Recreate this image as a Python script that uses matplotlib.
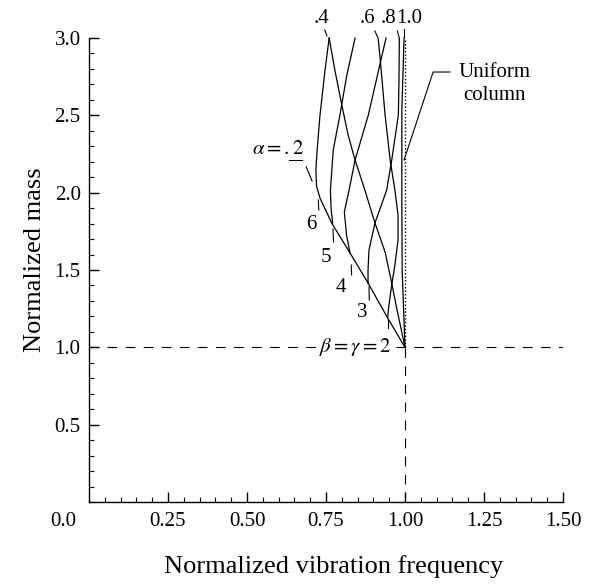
import matplotlib
matplotlib.use('Agg')
import matplotlib.pyplot as plt
from matplotlib.ticker import MultipleLocator

plt.rcParams['font.family'] = ['Liberation Serif', 'DejaVu Serif']
plt.rcParams['mathtext.fontset'] = 'stix'
plt.rcParams['lines.scale_dashes'] = False

# ---------------- data ----------------
x_ticks = [0.25, 0.50, 0.75, 1.00, 1.25, 1.50]
x_tick_labels = ['0.25', '0.50', '0.75', '1.00', '1.25', '1.50']
y_ticks = [0.5, 1.0, 1.5, 2.0, 2.5, 3.0]
y_tick_labels = ['0.5', '1.0', '1.5', '2.0', '2.5', '3.0']

reference_freq = 1.0
reference_mass = 1.0
mass_top = 3.0

# alpha = .2 curve (upper branch + lower envelope to beta=gamma=2)
c1_freq = [0.760, 0.747, 0.731, 0.722, 0.718, 0.720, 0.731, 0.768, 0.826, 0.883, 0.945, 1.000]
c1_mass = [3.000, 2.793, 2.502, 2.276, 2.147, 2.043, 1.965, 1.804, 1.610, 1.416, 1.190, 1.000]

c2_freq = [0.760, 0.778, 0.800, 0.820, 0.842, 0.873, 0.905, 0.937, 0.956, 0.975, 1.000]
c2_mass = [3.000, 2.793, 2.567, 2.373, 2.211, 2.017, 1.804, 1.616, 1.435, 1.241, 1.000]

c3_freq = [0.842, 0.816, 0.794, 0.773, 0.764, 0.766, 0.771]
c3_mass = [3.000, 2.761, 2.502, 2.276, 2.017, 1.901, 1.804]

c4_freq = [0.915, 0.924, 0.937, 0.953, 0.968, 0.978, 0.978, 0.968, 0.958, 0.948, 0.945]
c4_mass = [3.000, 2.806, 2.502, 2.211, 2.017, 1.856, 1.694, 1.532, 1.403, 1.254, 1.190]

c5_freq = [0.940, 0.918, 0.884, 0.842, 0.823, 0.808, 0.815, 0.826]
c5_mass = [3.000, 2.806, 2.502, 2.211, 2.017, 1.875, 1.726, 1.610]

c6_freq = [0.982, 0.981, 0.979, 0.958, 0.942, 0.905, 0.886, 0.883, 0.883]
c6_mass = [3.000, 2.728, 2.502, 2.211, 2.017, 1.804, 1.629, 1.500, 1.416]

c7_freq = [0.997, 0.990, 0.990, 0.991, 1.000]
c7_mass = [3.000, 2.534, 1.950, 1.500, 1.000]

curves = [(c1_freq, c1_mass), (c2_freq, c2_mass), (c3_freq, c3_mass),
          (c4_freq, c4_mass), (c5_freq, c5_mass), (c6_freq, c6_mass),
          (c7_freq, c7_mass)]

# ---------------- figure ----------------
fig = plt.figure(figsize=(5.94, 5.84), dpi=100)
ax = fig.add_axes([89/594, 82/584, 474/594, 464/584])
ax.set_xlim(0, 1.5)
ax.set_ylim(0, 3.0)
for s in ['top', 'right']:
    ax.spines[s].set_visible(False)
for s in ['left', 'bottom']:
    ax.spines[s].set_linewidth(1.0)

ax.set_xticks(x_ticks)
ax.set_xticklabels(x_tick_labels)
ax.set_yticks(y_ticks)
ax.set_yticklabels(y_tick_labels)
ax.xaxis.set_minor_locator(MultipleLocator(0.05))
ax.yaxis.set_minor_locator(MultipleLocator(0.1))
ax.tick_params(which='both', direction='in', top=False, right=False, labelsize=15)
ax.tick_params(which='major', length=7, width=1)
ax.tick_params(which='minor', length=3.5, width=0.8)
ax.tick_params(axis='x', pad=7)
ax.tick_params(axis='y', pad=6)

ax.text(-0.082, -0.123, '0.0', fontsize=15, ha='center', va='center', clip_on=False)

ax.set_xlabel('Normalized vibration frequency', fontsize=19, va='center')
ax.xaxis.set_label_coords(0.516, -0.140)
ax.set_ylabel('Normalized mass', fontsize=19, va='center')
ax.yaxis.set_label_coords(-0.114, 0.522)

# reference lines
ax.hlines(reference_mass, 0, 1.5, colors='black', linewidth=0.8, linestyles=(0, (7, 6)))
ax.vlines(reference_freq, 0, reference_mass, colors='black', linewidth=0.8, linestyles=(0, (7, 6)))
ax.vlines(reference_freq, reference_mass, mass_top, colors='black', linewidth=1.0,
          linestyles=(0, (1, 1.5)), clip_on=False)

for fx, my in curves:
    ax.plot(fx, my, color='black', linewidth=0.9, clip_on=False, solid_joinstyle='round')

lk = dict(color='black', linewidth=0.8, clip_on=False)

# top alpha labels
ax.text(0.737, 3.125, '.4', fontsize=15, ha='center', va='center', clip_on=False)
ax.text(0.880, 3.125, '.6', fontsize=15, ha='center', va='center', clip_on=False)
ax.text(0.949, 3.125, '.8', fontsize=15, ha='center', va='center', clip_on=False)
ax.text(1.013, 3.125, '1.0', fontsize=15, ha='center', va='center', clip_on=False)
ax.plot([0.746, 0.753], [3.052, 3.013], **lk)
ax.plot([0.905, 0.913], [3.045, 3.006], **lk)
ax.plot([0.976, 0.981], [3.045, 3.006], **lk)
ax.plot([0.998, 0.998], [3.058, 3.006], **lk)

# alpha = .2 label
ax.text(0.598, 2.276, r'$\alpha = .2$', fontsize=15, ha='center', va='center')
ax.plot([0.633, 0.674], [2.211, 2.211], **lk)
ax.plot([0.687, 0.706], [2.168, 2.075], **lk)

# beta labels on envelope
for lab, tx, ty, d in [('6', 0.703, 1.791, ([0.7256, 0.7272], [1.953, 1.888])),
                       ('5', 0.750, 1.584, ([0.772, 0.774], [1.765, 1.681])),
                       ('4', 0.797, 1.384, ([0.830, 0.831], [1.532, 1.468])),
                       ('3', 0.864, 1.228, ([0.886, 0.887], [1.390, 1.306]))]:
    ax.text(tx, ty, lab, fontsize=15, ha='center', va='center')
    ax.plot(d[0], d[1], **lk)
ax.plot([0.945, 0.945], [1.177, 1.125], **lk)

ax.text(0.842, 1.0, r'$\beta = \gamma = 2$', fontsize=15, ha='center', va='center',
        bbox=dict(facecolor='white', edgecolor='none', pad=1))

# uniform column label
ax.text(1.282, 2.780, 'Uniform', fontsize=15, ha='center', va='center')
ax.text(1.282, 2.625, 'column', fontsize=15, ha='center', va='center')
ax.plot([1.142, 1.089, 0.997], [2.780, 2.780, 2.211], **lk)

fig.savefig('out.png', dpi=100)
